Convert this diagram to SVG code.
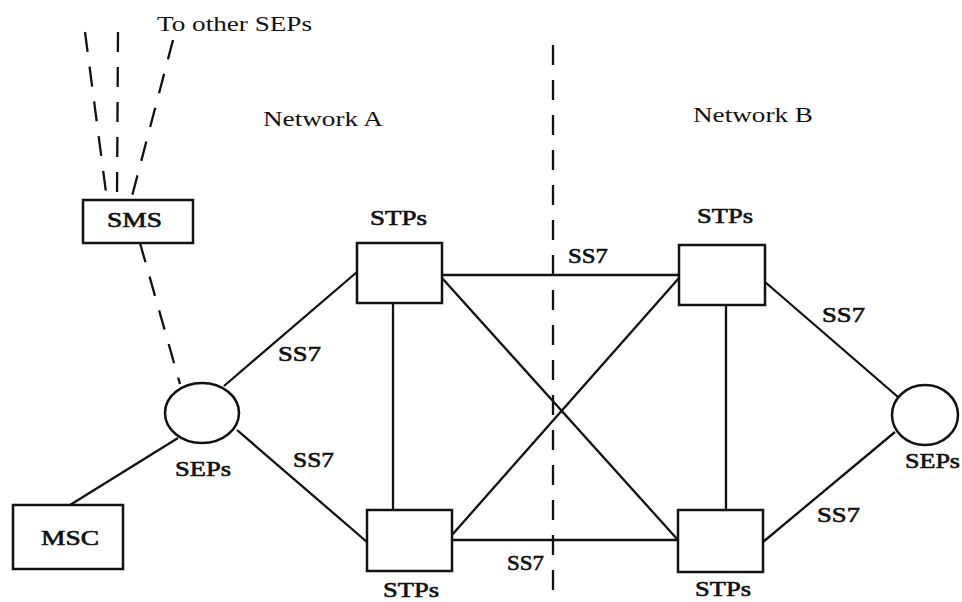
<svg xmlns="http://www.w3.org/2000/svg" width="962" height="602" viewBox="0 0 962 602">
<style>
  .bg{fill:#ffffff}
  .node{fill:#ffffff;stroke:#111;stroke-width:2.5}
  .ln{stroke:#111;stroke-width:2.3;fill:none}
  .dash{stroke:#111;stroke-width:2.3;fill:none;stroke-dasharray:20 15}
  text{font-family:"Liberation Serif","Times New Roman",serif;font-size:21px;fill:#111}
  .lbl{stroke:#111;stroke-width:0.6}
</style>
<rect class="bg" x="0" y="0" width="962" height="602"/>
<g id="connectors">
  <line class="dash" x1="85" y1="32" x2="107" y2="200"/>
  <line class="dash" x1="118" y1="32" x2="117" y2="200"/>
  <line class="dash" x1="173" y1="40" x2="131" y2="200"/>
  <line class="dash" x1="140" y1="243" x2="180" y2="384"/>
  <line class="dash" x1="553" y1="45" x2="553" y2="602"/>
  <line class="ln" x1="70" y1="505" x2="178" y2="438"/>
  <line class="ln" x1="224" y1="386" x2="357" y2="272"/>
  <line class="ln" x1="237" y1="430" x2="367" y2="542"/>
  <line class="ln" x1="393" y1="303" x2="393" y2="510"/>
  <line class="ln" x1="726" y1="305" x2="726" y2="510"/>
  <line class="ln" x1="442" y1="275" x2="679" y2="275"/>
  <line class="ln" x1="452" y1="540" x2="678" y2="540"/>
  <line class="ln" x1="442" y1="278" x2="678" y2="540"/>
  <line class="ln" x1="452" y1="535" x2="679" y2="278"/>
  <line class="ln" x1="765" y1="282" x2="898" y2="397"/>
  <line class="ln" x1="763" y1="542" x2="895" y2="432"/>
</g>
<g id="sms"><rect class="node" x="83" y="200" width="110" height="43"/><text class="lbl" x="107" y="227" textLength="55" lengthAdjust="spacingAndGlyphs">SMS</text></g>
<g id="msc"><rect class="node" x="13" y="505" width="110" height="64"/><text class="lbl" x="41" y="545" textLength="58" lengthAdjust="spacingAndGlyphs">MSC</text></g>
<g id="sep-left"><ellipse class="node" cx="202" cy="413" rx="37" ry="30"/><text class="lbl" x="175" y="476" textLength="56" lengthAdjust="spacingAndGlyphs">SEPs</text></g>
<g id="sep-right"><ellipse class="node" cx="925" cy="415" rx="33" ry="30"/><text class="lbl" x="905" y="468" textLength="55" lengthAdjust="spacingAndGlyphs">SEPs</text></g>
<g id="stp-a-top"><rect class="node" x="357" y="243" width="85" height="60"/><text class="lbl" x="370" y="225" textLength="57" lengthAdjust="spacingAndGlyphs">STPs</text></g>
<g id="stp-a-bottom"><rect class="node" x="367" y="510" width="85" height="61"/><text class="lbl" x="383" y="597" textLength="56" lengthAdjust="spacingAndGlyphs">STPs</text></g>
<g id="stp-b-top"><rect class="node" x="679" y="245" width="86" height="60"/><text class="lbl" x="697" y="223" textLength="56" lengthAdjust="spacingAndGlyphs">STPs</text></g>
<g id="stp-b-bottom"><rect class="node" x="678" y="510" width="85" height="62"/><text class="lbl" x="695" y="596" textLength="56" lengthAdjust="spacingAndGlyphs">STPs</text></g>
<g id="labels">
  <text x="157" y="31" textLength="155" lengthAdjust="spacingAndGlyphs">To other SEPs</text>
  <text x="263" y="126" textLength="120" lengthAdjust="spacingAndGlyphs">Network A</text>
  <text x="693" y="122" textLength="120" lengthAdjust="spacingAndGlyphs">Network B</text>
  <text class="lbl" x="278" y="361" textLength="43" lengthAdjust="spacingAndGlyphs">SS7</text>
  <text class="lbl" x="293" y="467" textLength="41" lengthAdjust="spacingAndGlyphs">SS7</text>
  <text class="lbl" x="568" y="263" textLength="40" lengthAdjust="spacingAndGlyphs">SS7</text>
  <text class="lbl" x="507" y="570" textLength="37" lengthAdjust="spacingAndGlyphs">SS7</text>
  <text class="lbl" x="822" y="322" textLength="43" lengthAdjust="spacingAndGlyphs">SS7</text>
  <text class="lbl" x="817" y="522" textLength="43" lengthAdjust="spacingAndGlyphs">SS7</text>
</g>
</svg>
